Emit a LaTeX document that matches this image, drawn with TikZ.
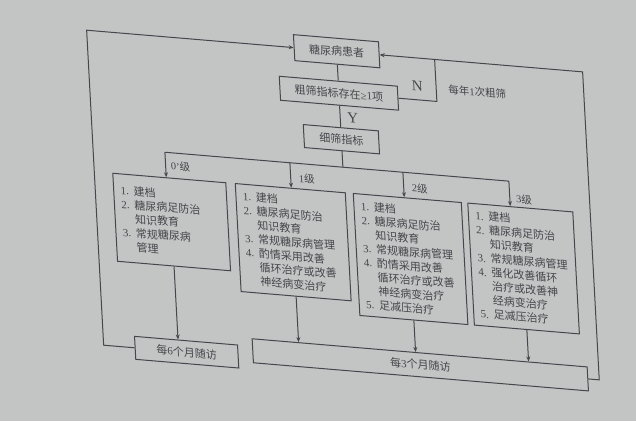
\documentclass[tikz,border=0pt]{standalone}
\usepackage{fontspec}
\setmainfont{Liberation Serif}
\newfontfamily\cjk{Noto Sans CJK SC}
\usetikzlibrary{arrows.meta}

\definecolor{slide}{RGB}{194,197,195}
\definecolor{ink}{RGB}{70,70,76}

% numbered lines inside the grade boxes
\newcommand{\numitem}[1]{\makebox[13pt][l]{\textrm{#1.}}}
\newcommand{\numgap}{\hspace*{13pt}}

\begin{document}
\begin{tikzpicture}[x=1pt, y=-1pt]
  \tikzset{
    mybox/.style={
      rectangle,
      draw=ink,
      line width=1pt,
      text=ink,
      inner sep=2pt,
      font=\cjk\fontsize{11}{14}\selectfont
    },
    listbox/.style={
      mybox,
      anchor=north,
      inner xsep=7pt,
      inner ysep=4pt,
      align=left
    },
    mylabel/.style={
      text=ink,
      inner sep=1pt,
      font=\cjk\fontsize{10.5}{12}\selectfont
    },
    myletter/.style={
      text=ink,
      inner sep=1pt,
      font=\fontsize{15}{15}\selectfont
    },
    myline/.style={
      draw=ink,
      line width=1pt
    },
    myarrow/.style={
      myline,
      -{Stealth[length=5pt, width=4pt]}
    }
  }

  \path[use as bounding box, fill=slide] (0, 0) rectangle (636, 421);

  % the slide is photographed at an angle
  \begin{scope}[cm={1,-0.084,-0.054,1,(-11.11pt,28.77pt)},
                every node/.append style={transform shape}]

  \node[mybox, minimum width=85pt, minimum height=26pt] (patient) at (345, 51) {糖尿病患者};
  \node[mybox, minimum width=118pt, minimum height=24pt] (screen) at (345, 93) {粗筛指标存在\textrm{≥1}项};
  \node[mybox, minimum width=75pt, minimum height=23pt] (detail) at (345, 139) {细筛指标};

  \node[myletter] (nlab) at (424, 79) {N};
  \node[myletter, anchor=west] (ylab) at (351, 117) {Y};
  \node[mylabel] (yearly) at (484, 80) {每年\textrm{1}次粗筛};

  \node[listbox, text width=99pt, minimum height=88pt] (grade0) at (170, 192) {
    \numitem{1}建档\\
    \numitem{2}糖尿病足防治\\
    \numgap 知识教育\\
    \numitem{3}常规糖尿病\\
    \numgap 管理};
  \node[listbox, text width=96pt, minimum height=108pt] (grade1) at (291, 192) {
    \numitem{1}建档\\
    \numitem{2}糖尿病足防治\\
    \numgap 知识教育\\
    \numitem{3}常规糖尿病管理\\
    \numitem{4}酌情采用改善\\
    \numgap 循环治疗或改善\\
    \numgap 神经病变治疗};
  \node[listbox, text width=94pt, minimum height=122pt] (grade2) at (408, 192) {
    \numitem{1}建档\\
    \numitem{2}糖尿病足防治\\
    \numgap 知识教育\\
    \numitem{3}常规糖尿病管理\\
    \numitem{4}酌情采用改善\\
    \numgap 循环治疗或改善\\
    \numgap 神经病变治疗\\
    \numitem{5}足减压治疗};
  \node[listbox, text width=91pt, minimum height=122pt] (grade3) at (521, 192) {
    \numitem{1}建档\\
    \numitem{2}糖尿病足防治\\
    \numgap 知识教育\\
    \numitem{3}常规糖尿病管理\\
    \numitem{4}强化改善循环\\
    \numgap 治疗或改善神\\
    \numgap 经病变治疗\\
    \numitem{5}足减压治疗};

  \node[mylabel, anchor=west] (lab0) at (171, 180) {\textrm{0’}级};
  \node[mylabel, anchor=west] (lab1) at (299, 182) {\textrm{1}级};
  \node[mylabel, anchor=west] (lab2) at (412, 182) {\textrm{2}级};
  \node[mylabel, anchor=west] (lab3) at (516, 184) {\textrm{3}级};

  \node[mybox, minimum width=103pt, minimum height=23pt] (sixmonth) at (178, 366) {每\textrm{6}个月随访};
  \node[mybox, minimum width=335pt, minimum height=24pt] (threemonth) at (412, 359) {每\textrm{3}个月随访};

  \coordinate (nturn) at (443, 51);
  \coordinate (bus0) at (167, 167);
  \coordinate (bus1) at (292, 167);
  \coordinate (bus2) at (405, 167);
  \coordinate (bus3) at (511, 167);

  \draw[myline] (patient.south) -- (screen.north);
  \draw[myline] (screen.south) -- (detail.north);
  \draw[myline] (screen.east) -| (nturn);
  \draw[myline] (detail.south) -- (detail.south |- bus0);
  \draw[myline] (bus0) -- (bus3);
  \foreach \i in {0,...,3}
    \draw[myarrow] (bus\i) -- (bus\i |- grade\i.north);

  \draw[myarrow] (grade0.south) -- (grade0.south |- sixmonth.north);
  \foreach \i in {1,2,3}
    \draw[myarrow] (grade\i.south) -- (grade\i.south |- threemonth.north);

  \draw[myarrow] (sixmonth.west) -- ++(-31, 0) |- (patient.west);
  \draw[myarrow] (threemonth.east) -- ++(11, 0) |- (patient.east);
  \end{scope}
\end{tikzpicture}
\end{document}
